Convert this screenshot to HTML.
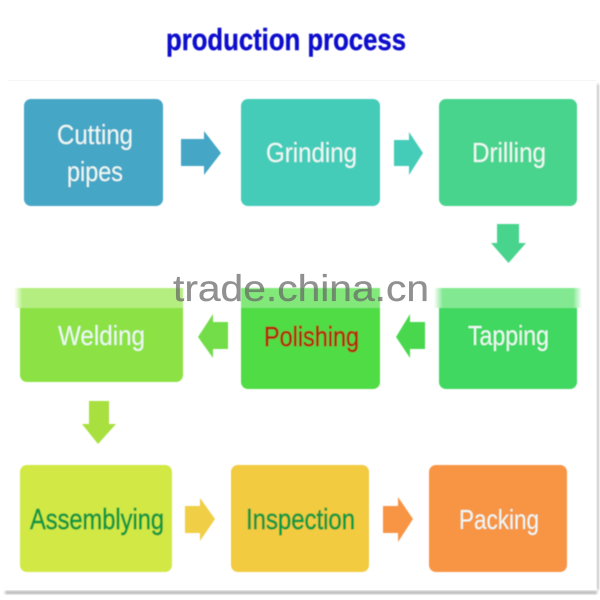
<!DOCTYPE html>
<html>
<head>
<meta charset="utf-8">
<style>
html,body{margin:0;padding:0;background:#fff;width:600px;height:600px;overflow:hidden}
svg{display:block}
text{font-family:"Liberation Sans",sans-serif}
</style>
</head>
<body>
<svg width="600" height="600" viewBox="0 0 600 600" xmlns="http://www.w3.org/2000/svg">
<defs>
<filter id="s" x="-5%" y="-5%" width="110%" height="110%"><feGaussianBlur stdDeviation="0.4"/></filter>
<filter id="b" x="-20%" y="-20%" width="140%" height="140%"><feGaussianBlur stdDeviation="1.2"/></filter>
<linearGradient id="fadeW" x1="0" x2="1" y1="0" y2="0">
<stop offset="0" stop-color="#fff"/><stop offset="0.05" stop-color="#B5EE80"/><stop offset="1" stop-color="#B5EE80"/>
</linearGradient>
<linearGradient id="fadeT" x1="0" x2="1" y1="0" y2="0">
<stop offset="0" stop-color="#fff"/><stop offset="0.06" stop-color="#82E892"/><stop offset="0.94" stop-color="#82E892"/><stop offset="1" stop-color="#fff"/>
</linearGradient>
</defs>

<!-- panel edges -->
<rect x="8" y="80" width="588" height="1" fill="#f5f5f5"/>
<rect x="597" y="84" width="2" height="506" fill="#b5b5b5" filter="url(#b)"/>
<rect x="5" y="591" width="592" height="3" fill="#b0b0b0" filter="url(#b)"/>

<g filter="url(#s)">
<!-- row 1 -->
<rect x="24" y="99" width="139" height="107" rx="7" fill="#45A6C6"/>
<rect x="241" y="99" width="139" height="107" rx="7" fill="#45CCB9"/>
<rect x="439" y="99" width="138" height="107" rx="7" fill="#48D48E"/>
<polygon points="181,139 204,139 204,131 221,153 204,175 204,166 181,166" fill="#45A6C6"/>
<polygon points="394,140 409,140 409,132 423,153 409,175 409,166 394,166" fill="#45CCB9"/>
<polygon points="497,224 519,224 519,243 526,243 508.5,263 491,243 497,243" fill="#48D48E"/>

<!-- row 2 -->
<rect x="439" y="300" width="138" height="89" rx="7" fill="#40D860"/>
<rect x="241" y="300" width="139" height="89" rx="7" fill="#50DC44"/>
<rect x="20" y="300" width="163" height="82" rx="7" fill="#8CE244"/>
<rect x="434" y="288" width="148" height="20" fill="url(#fadeT)"/>
<rect x="241" y="288" width="139" height="20" fill="#82E87A"/>
<rect x="14" y="288" width="169" height="20" fill="url(#fadeW)"/>
<polygon points="425,322 410,322 410,314 396,337 410,358 410,349 425,349" fill="#48D84E"/>
<polygon points="228,322 213,322 213,314 198,337 213,358 213,349 228,349" fill="#72DC48"/>
<polygon points="89,401 109,401 109,424 116,424 98,444 82,424 89,424" fill="#A8E040"/>

<!-- row 3 -->
<rect x="20" y="465" width="152" height="107" rx="7" fill="#D2E845"/>
<rect x="231" y="465" width="138" height="107" rx="7" fill="#F2CB40"/>
<rect x="429" y="465" width="138" height="107" rx="7" fill="#F79545"/>
<polygon points="185,506 200,506 200,498 215,519 200,541 200,533 185,533" fill="#F0CE45"/>
<polygon points="383,506 398,506 398,497 413,519 398,542 398,533 383,533" fill="#F79545"/>

<!-- labels -->
<g font-size="28" fill="#EEF8F4">
<text x="57" y="144" textLength="76" lengthAdjust="spacingAndGlyphs">Cutting</text>
<text x="67" y="181" textLength="56" lengthAdjust="spacingAndGlyphs">pipes</text>
<text x="266" y="162" textLength="91" lengthAdjust="spacingAndGlyphs">Grinding</text>
<text x="472" y="162" textLength="74" lengthAdjust="spacingAndGlyphs">Drilling</text>
<text x="58" y="345" textLength="87" lengthAdjust="spacingAndGlyphs">Welding</text>
<text x="468" y="345" textLength="81" lengthAdjust="spacingAndGlyphs">Tapping</text>
<text x="459" y="529" textLength="80" lengthAdjust="spacingAndGlyphs">Packing</text>
</g>
<text x="264" y="346" font-size="28" fill="#B02A10" stroke="#B02A10" stroke-width="0.7" textLength="95" lengthAdjust="spacingAndGlyphs">Polishing</text>
<text x="30" y="529" font-size="29" fill="#119A42" stroke="#119A42" stroke-width="0.7" textLength="134" lengthAdjust="spacingAndGlyphs">Assemblying</text>
<text x="246" y="529" font-size="29" fill="#119A42" stroke="#119A42" stroke-width="0.7" textLength="109" lengthAdjust="spacingAndGlyphs">Inspection</text>

<!-- title -->
<text x="166" y="50" font-size="31" font-weight="bold" fill="#0A0ACD" stroke="#0A0ACD" stroke-width="0.4" textLength="240" lengthAdjust="spacingAndGlyphs">production process</text>
</g>

<!-- watermark -->
<text x="173" y="301" font-size="37" fill="#666" fill-opacity="0.72" stroke="#666" stroke-opacity="0.5" stroke-width="0.3" textLength="256" lengthAdjust="spacingAndGlyphs">trade.china.cn</text>
</svg>
</body>
</html>
